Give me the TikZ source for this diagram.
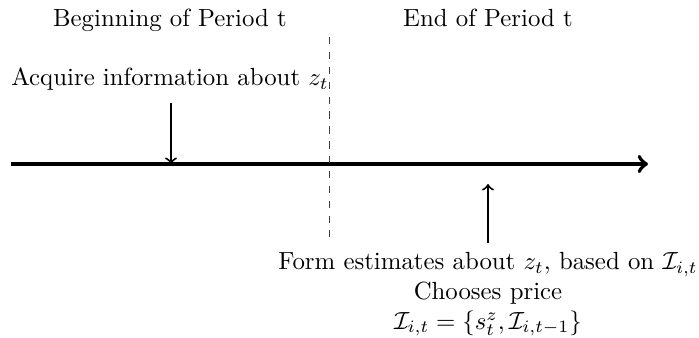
\documentclass[tikz,border=0pt]{standalone}
\begin{document}
\begin{tikzpicture}[x=0.4032pt,y=-0.4032pt,
  lbl/.style={inner sep=0pt, anchor=base},
  evt/.style={->, thick},
  timeline/.style={->, ultra thick},
  divider/.style={dashed, thin, black!75}]
\useasboundingbox (0,0) rectangle (699,338);
% timeline
\coordinate (a0) at (11,164);
\coordinate (a1) at (648,164);
\draw[timeline] (a0) -- (a1);
% period divider
\coordinate (d0) at (329,37);
\coordinate (d1) at (329,237);
\draw[divider] (d0) -- (d1);
% headings
\node[lbl] (beg) at (170,27) {Beginning of Period t};
\node[lbl] (end) at (488,27) {End of Period t};
% events
\node[lbl] (acq) at (170,86) {Acquire information about $z_t$};
\coordinate (acq0) at (171,103);
\coordinate (acq1) at (171,164);
\draw[evt] (acq0) -- (acq1);
\node[inner sep=0pt, anchor=north, align=center] (form) at (488,252)
  {Form estimates about $z_t$, based on $\mathcal{I}_{i,t}$\\
   Chooses price\\
   $\mathcal{I}_{i,t}=\{s^z_t,\mathcal{I}_{i,t-1}\}$};
\coordinate (f0) at (488,243);
\coordinate (f1) at (488,184);
\draw[evt] (f0) -- (f1);
\end{tikzpicture}
\end{document}
